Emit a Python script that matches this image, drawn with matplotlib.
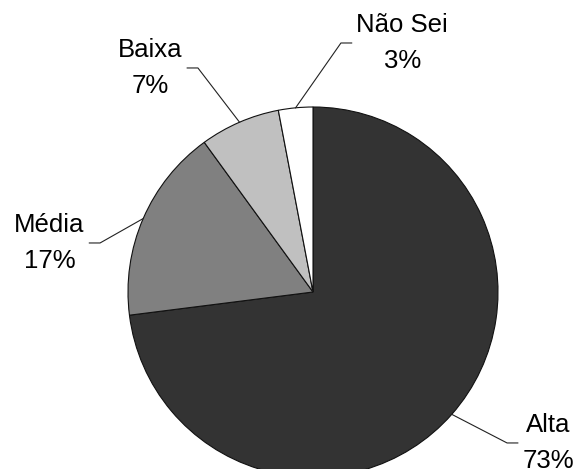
import numpy as np
import matplotlib.pyplot as plt

plt.rcParams['font.family'] = ['Liberation Sans', 'DejaVu Sans']

categorias = ['Alta', 'Média', 'Baixa', 'Não Sei']
percentuais = [73, 17, 7, 3]
cores = ['#333333', '#808080', '#c0c0c0', '#ffffff']

# cotovelo da linha de chamada (unidades do raio) e lado do texto
cotovelos = [(1.049, -0.816), (-1.151, 0.265), (-0.622, 1.211), (0.151, 1.346)]
lados = [1, -1, -1, 1]

fig = plt.figure(figsize=(5.77, 4.69), dpi=100)
ax = fig.add_axes([0, 0, 1, 1])

wedges, _ = ax.pie(percentuais, colors=cores, startangle=90, counterclock=False,
                   radius=1.0, center=(0, 0),
                   wedgeprops=dict(edgecolor='#111111', linewidth=0.8))

for w, cat, p, (ex, ey), lado in zip(wedges, categorias, percentuais, cotovelos, lados):
    meio = np.deg2rad((w.theta1 + w.theta2) / 2)
    px, py = np.cos(meio), np.sin(meio)
    fim = ex + lado * 0.058
    ax.plot([px, ex, fim], [py, ey, ey], color='#222222', lw=0.8)
    ax.text(fim + lado * 0.025, ey, f'{cat}\n{p}%', fontsize=18.5,
            ha='left' if lado > 0 else 'right', va='center',
            multialignment='center', linespacing=1.6)

ax.set_xlim(-313 / 185, (577 - 313) / 185)
ax.set_ylim(-(469 - 292) / 185, 292 / 185)
ax.set_aspect('auto')
ax.axis('off')

fig.savefig('out.png', dpi=100)
